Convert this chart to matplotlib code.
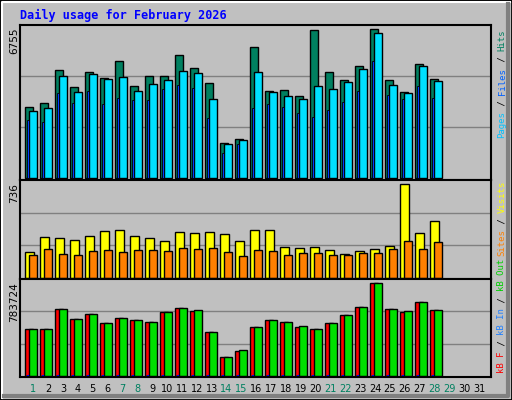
import numpy as np
import matplotlib
matplotlib.use("Agg")
import matplotlib.pyplot as plt
from matplotlib.patches import Rectangle

days = np.arange(1, 29)
hits = [3135, 3311, 4768, 4018, 4680, 4415, 5166, 4062, 4503, 4503, 5430, 4857, 4194, 1545,
        1722, 5784, 3841, 3885, 3620, 6534, 4680, 4327, 4945, 6578, 4327, 3797, 5033, 4371]
files = [2958, 3091, 4503, 3797, 4592, 4371, 4459, 3841, 4150, 4327, 4724, 4636, 3488, 1501,
         1678, 4680, 3797, 3620, 3488, 4062, 3929, 4238, 4812, 6402, 4106, 3753, 4945, 4282]
pages = [2561, 2472, 3753, 3311, 3841, 3267, 3532, 3444, 3444, 3929, 4106, 3974, 2649, 1104,
         1501, 3091, 3267, 3135, 2870, 2693, 3002, 3355, 3841, 5166, 3664, 3488, 4062, 3532]
visits = [193, 305, 297, 282, 312, 349, 357, 312, 297, 275, 342, 335, 342, 327,
          275, 357, 357, 230, 223, 230, 208, 178, 201, 216, 238, 706, 335, 424]
sites = [171, 216, 178, 171, 201, 208, 193, 208, 208, 201, 223, 216, 223, 193,
         164, 208, 201, 171, 186, 186, 171, 171, 186, 186, 216, 275, 216, 268]
kb_f = [379968, 379968, 538288, 459128, 498708, 427464, 467044, 451212, 435380, 514540,
        546204, 524800, 356220, 150404, 197900, 395800, 451212, 435380, 395800, 379968,
        427464, 490792, 554120, 752020, 538288, 514540, 601616, 530372]
kb_out = [379968, 379968, 538288, 459128, 498708, 427464, 467044, 451212, 435380, 514540,
          546204, 530372, 356220, 150404, 205816, 395800, 451212, 435380, 403716, 379968,
          427464, 490792, 554120, 752020, 538288, 522456, 601616, 530372]
kb_in = [4000] * 28
max_hits, max_visits, max_kb = 6755, 736, 783724
weekend = [1, 7, 8, 14, 15, 21, 22, 28, 29]

BG = "#c0c0c0"
W, H = 512, 400
fig = plt.figure(figsize=(W / 100, H / 100), dpi=100, facecolor=BG)

def px(x, y):
    return x / W, 1 - y / H

# frame + bevel
fig.patches.append(Rectangle((0, 0), 1, 1, transform=fig.transFigure, fill=False, ec="black", lw=2))
fig.lines.append(plt.Line2D([2 / W, 2 / W, 1 - 2 / W], [2 / H, 1 - 2 / H, 1 - 2 / H], transform=fig.transFigure, color="white", lw=1.5))
fig.lines.append(plt.Line2D([4 / W, 1 - 4 / W, 1 - 4 / W], [4 / H, 4 / H, 1 - 4 / H], transform=fig.transFigure, color="#808080", lw=3))

def make_ax(top, bottom, vmax):
    l, b = px(20.3, bottom)
    ax = fig.add_axes([l, b, 470.4 / W, (bottom - top) / H])
    ax.set_facecolor(BG)
    ax.set_xlim(0, 31.36)
    ax.set_ylim(-0.012 * vmax, vmax)
    for s in ax.spines.values():
        s.set_color("black")
        s.set_linewidth(1.5)
    ax.set_xticks([])
    ax.set_yticks([])
    for g in (vmax / 3, 2 * vmax / 3):
        ax.axhline(g, color="#808080", lw=1, zorder=0)
    return ax

x0 = days - 1
ax1 = make_ax(25, 180, max_hits)
ax1.bar(x0 + 0.333, hits, 0.49, align="edge", color="#008060", ec="black", lw=1)
ax1.bar(x0 + 0.6, files, 0.49, align="edge", color="#00e0ff", ec="black", lw=1)
ax1.bar(x0 + 0.467, pages, 0.13, align="edge", color="#0040ff", ec="black", lw=0.6)

ax2 = make_ax(180, 279, max_visits)
ax2.bar(x0 + 0.333, visits, 0.56, align="edge", color="#ffff00", ec="black", lw=1)
ax2.bar(x0 + 0.6, sites, 0.49, align="edge", color="#ff8000", ec="black", lw=1)

ax3 = make_ax(279, 377, max_kb)
ax3.bar(x0 + 0.333, kb_f, 0.49, align="edge", color="#ff0000", ec="black", lw=1)
ax3.bar(x0 + 0.6, kb_out, 0.49, align="edge", color="#00e000", ec="black", lw=1)
ax3.bar(x0 + 0.467, kb_in, 0.13, align="edge", color="#0000ff", lw=0)

mono = "DejaVu Sans Mono"
fig.text(*px(20, 15), "Daily usage for February 2026", color="#0000ff", family=mono,
         weight="bold", fontsize=8.5, va="center", ha="left")

for ypix, lab in [(27, str(max_hits)), (183, str(max_visits)), (282, str(max_kb))]:
    fig.text(*px(14, ypix), lab, rotation=90, family="DejaVu Sans", fontsize=7.5,
             ha="center", va="top")

for d in range(1, 32):
    xp = 20.3 + 13 + 14.86 * (d - 1)
    fig.text(*px(xp, 389), str(d), family="DejaVu Sans", fontsize=7, ha="center", va="center",
             color="#008060" if d in weekend else "black")

FS = 6.5
CW = 0.602 * FS * 100 / 72  # monospace advance in px
def side_label(ybottom, parts):
    y = ybottom
    for txt, col in parts:
        fig.text(*px(502, y), txt, rotation=90, rotation_mode="anchor", family=mono,
                 fontsize=FS, ha="left", va="center", color=col)
        y -= CW * len(txt)

side_label(138, [("Pages", "#00c0ff"), (" / ", "black"), ("Files", "#0060ff"), (" / ", "black"), ("Hits", "#008060")])
side_label(256, [("Sites", "#ff8000"), (" / ", "black"), ("Visits", "#ffff00")])
side_label(373, [("kB F", "#ff0000"), (" / ", "black"), ("kB In", "#2080ff"), (" / ", "black"), ("kB Out", "#00d000")])

fig.savefig("out.png", dpi=100, facecolor=BG)
